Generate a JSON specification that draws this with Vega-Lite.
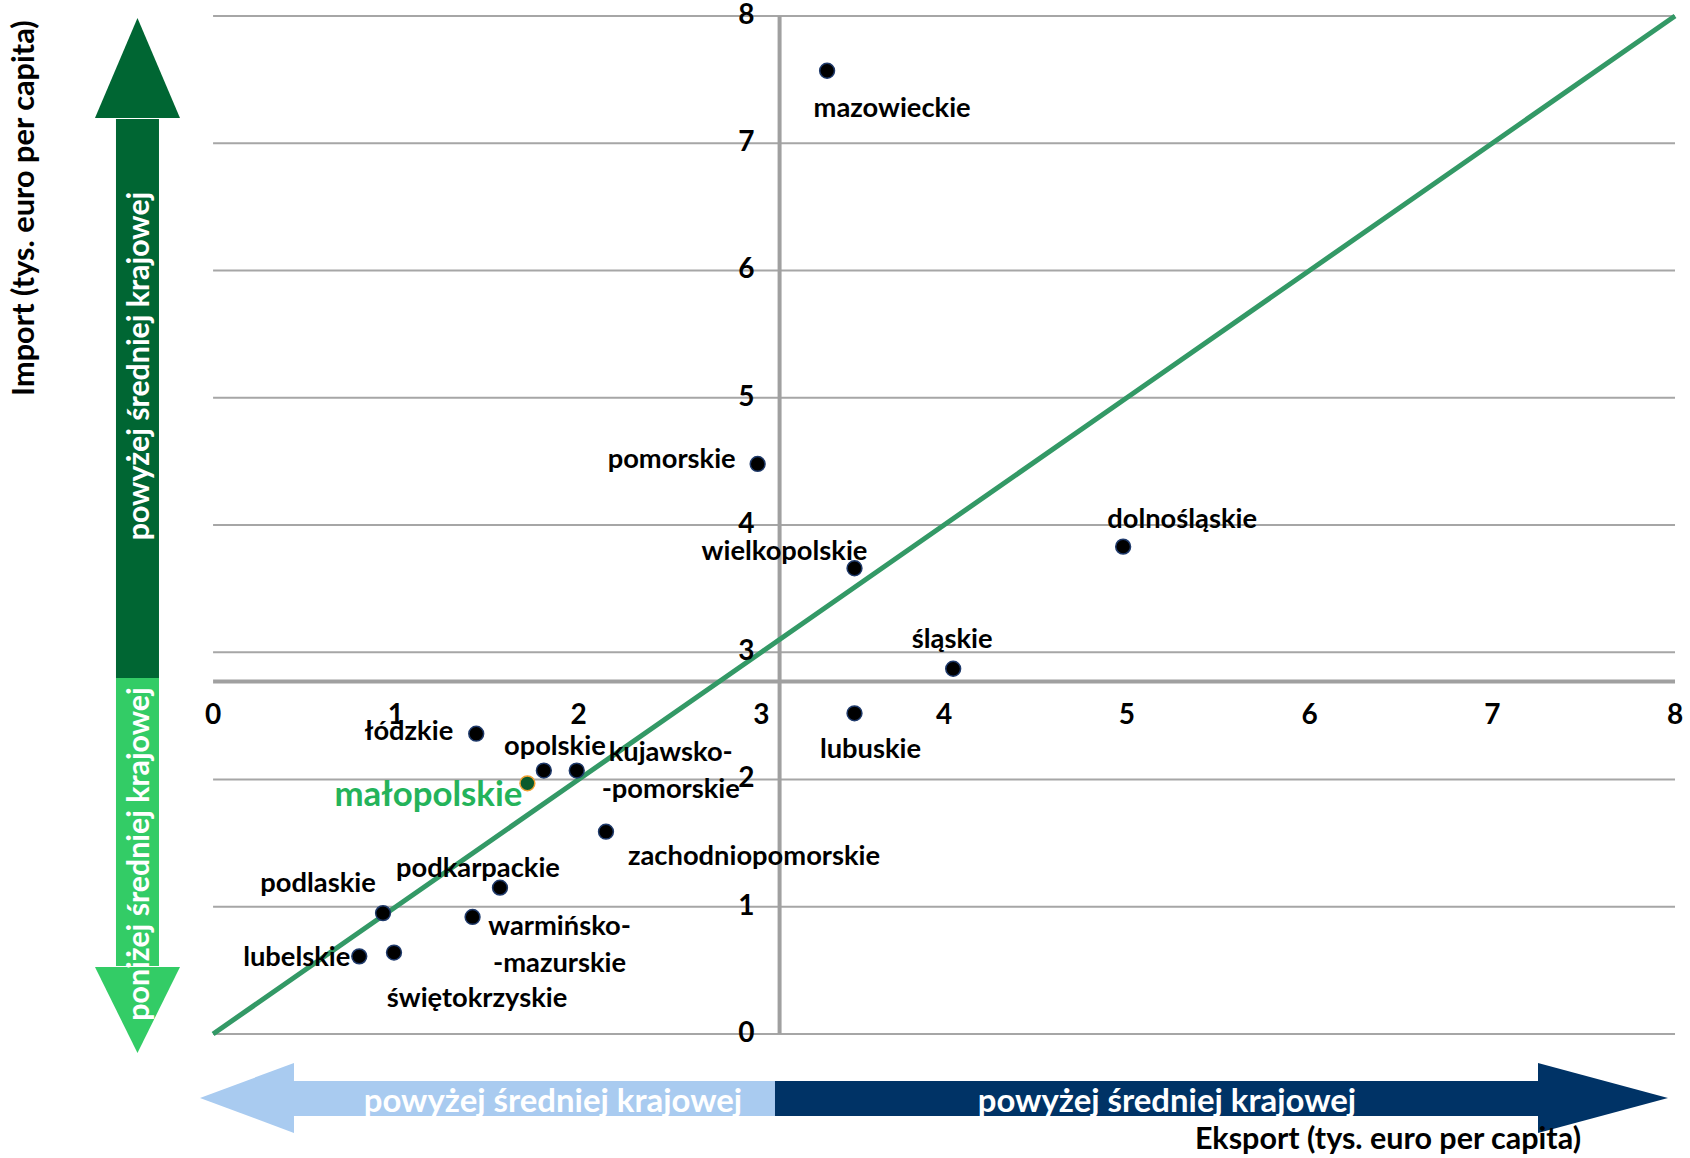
{
  "$schema": "https://vega.github.io/schema/vega-lite/v6.json",
  "width": 1690,
  "height": 1158,
  "autosize": {"type": "fit", "contains": "padding"},
  "padding": 0,
  "background": "white",
  "config": {
    "view": {"stroke": null},
    "text": {"font": "Lato", "fontWeight": "bold", "color": "#000000"}
  },
  "datasets": {
    "regiony": [
      {"region": "mazowieckie", "etykieta": "mazowieckie", "eksport": 3.36, "import": 7.57},
      {"region": "pomorskie", "etykieta": "pomorskie", "eksport": 2.98, "import": 4.48},
      {"region": "wielkopolskie", "etykieta": "wielkopolskie", "eksport": 3.51, "import": 3.66},
      {"region": "dolnośląskie", "etykieta": "dolnośląskie", "eksport": 4.98, "import": 3.83},
      {"region": "śląskie", "etykieta": "śląskie", "eksport": 4.05, "import": 2.87},
      {"region": "lubuskie", "etykieta": "lubuskie", "eksport": 3.51, "import": 2.52},
      {"region": "łódzkie", "etykieta": "łódzkie", "eksport": 1.44, "import": 2.36},
      {"region": "opolskie", "etykieta": "opolskie", "eksport": 1.81, "import": 2.07},
      {"region": "kujawsko-pomorskie", "etykieta": "kujawsko-\n-pomorskie", "eksport": 1.99, "import": 2.07},
      {"region": "małopolskie", "etykieta": "małopolskie", "eksport": 1.72, "import": 1.97},
      {"region": "zachodniopomorskie", "etykieta": "zachodniopomorskie", "eksport": 2.15, "import": 1.59},
      {"region": "podkarpackie", "etykieta": "podkarpackie", "eksport": 1.57, "import": 1.15},
      {"region": "podlaskie", "etykieta": "podlaskie", "eksport": 0.93, "import": 0.95},
      {"region": "warmińsko-mazurskie", "etykieta": "warmińsko-\n-mazurskie", "eksport": 1.42, "import": 0.92},
      {"region": "lubelskie", "etykieta": "lubelskie", "eksport": 0.80, "import": 0.61},
      {"region": "świętokrzyskie", "etykieta": "świętokrzyskie", "eksport": 0.99, "import": 0.64}
    ],
    "podzialka": [
      {"v": 0}, {"v": 1}, {"v": 2}, {"v": 3}, {"v": 4}, {"v": 5}, {"v": 6}, {"v": 7}, {"v": 8}
    ],
    "srednia": [
      {"eksport": 3.10, "import": 2.77}
    ]
  },
  "layer": [
    {
      "data": {"name": "podzialka"},
      "mark": {"type": "rule", "color": "#A6A6A6", "strokeWidth": 2},
      "encoding": {
        "y": {"field": "v", "type": "quantitative", "scale": {"domain": [-0.9745, 8.1257], "nice": false, "zero": false}, "axis": null},
        "x": {"datum": 0, "type": "quantitative", "scale": {"domain": [-1.166, 8.082], "nice": false, "zero": false}, "axis": null},
        "x2": {"datum": 8}
      }
    },
    {
      "data": {"name": "srednia"},
      "mark": {"type": "rule", "color": "#A0A0A0", "strokeWidth": 4},
      "encoding": {
        "x": {"field": "eksport", "type": "quantitative", "scale": {"domain": [-1.166, 8.082], "nice": false, "zero": false}, "axis": null},
        "y": {"datum": 0, "type": "quantitative", "scale": {"domain": [-0.9745, 8.1257], "nice": false, "zero": false}, "axis": null},
        "y2": {"datum": 8}
      }
    },
    {
      "data": {"name": "srednia"},
      "mark": {"type": "rule", "color": "#A0A0A0", "strokeWidth": 4},
      "encoding": {
        "y": {"field": "import", "type": "quantitative", "scale": {"domain": [-0.9745, 8.1257], "nice": false, "zero": false}, "axis": null},
        "x": {"datum": 0, "type": "quantitative", "scale": {"domain": [-1.166, 8.082], "nice": false, "zero": false}, "axis": null},
        "x2": {"datum": 8}
      }
    },
    {
      "data": {"name": "srednia"},
      "mark": {"type": "rect", "color": "#006633"},
      "encoding": {
        "x": {"datum": -0.5313, "type": "quantitative", "scale": {"domain": [-1.166, 8.082], "nice": false, "zero": false}, "axis": null},
        "x2": {"datum": -0.2960},
        "y": {"datum": 7.1906, "type": "quantitative", "scale": {"domain": [-0.9745, 8.1257], "nice": false, "zero": false}, "axis": null},
        "y2": {"datum": 2.7976}
      }
    },
    {
      "data": {"name": "srednia"},
      "mark": {"type": "rect", "color": "#33CC66"},
      "encoding": {
        "x": {"datum": -0.5313, "type": "quantitative", "scale": {"domain": [-1.166, 8.082], "nice": false, "zero": false}, "axis": null},
        "x2": {"datum": -0.2960},
        "y": {"datum": 2.7976, "type": "quantitative", "scale": {"domain": [-0.9745, 8.1257], "nice": false, "zero": false}, "axis": null},
        "y2": {"datum": 0.5344}
      }
    },
    {
      "data": {"name": "srednia"},
      "mark": {"type": "point", "shape": "M -0.85 1 L 0.85 1 L 0 -1 Z", "size": 10000, "filled": true, "color": "#006633", "opacity": 1, "strokeWidth": 0},
      "encoding": {
        "x": {"datum": -0.4137, "type": "quantitative", "scale": {"domain": [-1.166, 8.082], "nice": false, "zero": false}, "axis": null},
        "y": {"datum": 7.5914, "type": "quantitative", "scale": {"domain": [-0.9745, 8.1257], "nice": false, "zero": false}, "axis": null}
      }
    },
    {
      "data": {"name": "srednia"},
      "mark": {"type": "point", "shape": "M -0.85 -0.86 L 0.85 -0.86 L 0 0.86 Z", "size": 10000, "filled": true, "color": "#33CC66", "opacity": 1, "strokeWidth": 0},
      "encoding": {
        "x": {"datum": -0.4137, "type": "quantitative", "scale": {"domain": [-1.166, 8.082], "nice": false, "zero": false}, "axis": null},
        "y": {"datum": 0.1886, "type": "quantitative", "scale": {"domain": [-0.9745, 8.1257], "nice": false, "zero": false}, "axis": null}
      }
    },
    {
      "data": {"name": "srednia"},
      "mark": {"type": "rect", "color": "#A9CBF0"},
      "encoding": {
        "x": {"datum": 0.4377, "type": "quantitative", "scale": {"domain": [-1.166, 8.082], "nice": false, "zero": false}, "axis": null},
        "x2": {"datum": 3.0749},
        "y": {"datum": -0.3694, "type": "quantitative", "scale": {"domain": [-0.9745, 8.1257], "nice": false, "zero": false}, "axis": null},
        "y2": {"datum": -0.6444}
      }
    },
    {
      "data": {"name": "srednia"},
      "mark": {"type": "rect", "color": "#003366"},
      "encoding": {
        "x": {"datum": 3.0749, "type": "quantitative", "scale": {"domain": [-1.166, 8.082], "nice": false, "zero": false}, "axis": null},
        "x2": {"datum": 7.2558},
        "y": {"datum": -0.3694, "type": "quantitative", "scale": {"domain": [-0.9745, 8.1257], "nice": false, "zero": false}, "axis": null},
        "y2": {"datum": -0.6444}
      }
    },
    {
      "data": {"name": "srednia"},
      "mark": {"type": "point", "shape": "M 0.94 -0.7 L 0.94 0.7 L -0.94 0 Z", "size": 10000, "filled": true, "color": "#A9CBF0", "opacity": 1, "strokeWidth": 0},
      "encoding": {
        "x": {"datum": 0.1855, "type": "quantitative", "scale": {"domain": [-1.166, 8.082], "nice": false, "zero": false}, "axis": null},
        "y": {"datum": -0.5029, "type": "quantitative", "scale": {"domain": [-0.9745, 8.1257], "nice": false, "zero": false}, "axis": null}
      }
    },
    {
      "data": {"name": "srednia"},
      "mark": {"type": "point", "shape": "M -1.3 -0.7 L -1.3 0.7 L 1.3 0 Z", "size": 10000, "filled": true, "color": "#003366", "opacity": 1, "strokeWidth": 0},
      "encoding": {
        "x": {"datum": 7.6058, "type": "quantitative", "scale": {"domain": [-1.166, 8.082], "nice": false, "zero": false}, "axis": null},
        "y": {"datum": -0.5029, "type": "quantitative", "scale": {"domain": [-0.9745, 8.1257], "nice": false, "zero": false}, "axis": null}
      }
    },
    {
      "data": {"name": "srednia"},
      "mark": {"type": "text", "text": "powyżej średniej krajowej", "angle": 270, "color": "#FFFFFF", "fontSize": 30.3, "align": "center", "baseline": "middle"},
      "encoding": {
        "x": {"datum": -0.4, "type": "quantitative", "scale": {"domain": [-1.166, 8.082], "nice": false, "zero": false}, "axis": null},
        "y": {"datum": 5.2495, "type": "quantitative", "scale": {"domain": [-0.9745, 8.1257], "nice": false, "zero": false}, "axis": null}
      }
    },
    {
      "data": {"name": "srednia"},
      "mark": {"type": "text", "text": "poniżej średniej krajowej", "angle": 270, "color": "#FFFFFF", "fontSize": 30.3, "align": "center", "baseline": "middle"},
      "encoding": {
        "x": {"datum": -0.4, "type": "quantitative", "scale": {"domain": [-1.166, 8.082], "nice": false, "zero": false}, "axis": null},
        "y": {"datum": 1.4145, "type": "quantitative", "scale": {"domain": [-0.9745, 8.1257], "nice": false, "zero": false}, "axis": null}
      }
    },
    {
      "data": {"name": "srednia"},
      "mark": {"type": "text", "text": "powyżej średniej krajowej", "color": "#FFFFFF", "fontSize": 32.9, "align": "center", "baseline": "alphabetic"},
      "encoding": {
        "x": {"datum": 1.86, "type": "quantitative", "scale": {"domain": [-1.166, 8.082], "nice": false, "zero": false}, "axis": null},
        "y": {"datum": -0.61, "type": "quantitative", "scale": {"domain": [-0.9745, 8.1257], "nice": false, "zero": false}, "axis": null}
      }
    },
    {
      "data": {"name": "srednia"},
      "mark": {"type": "text", "text": "powyżej średniej krajowej", "color": "#FFFFFF", "fontSize": 32.9, "align": "center", "baseline": "alphabetic"},
      "encoding": {
        "x": {"datum": 5.22, "type": "quantitative", "scale": {"domain": [-1.166, 8.082], "nice": false, "zero": false}, "axis": null},
        "y": {"datum": -0.61, "type": "quantitative", "scale": {"domain": [-0.9745, 8.1257], "nice": false, "zero": false}, "axis": null}
      }
    },
    {
      "data": {"name": "srednia"},
      "mark": {"type": "text", "text": "Import (tys. euro per capita)", "angle": 270, "fontSize": 30.7, "align": "center", "baseline": "middle"},
      "encoding": {
        "x": {"datum": -1.0294, "type": "quantitative", "scale": {"domain": [-1.166, 8.082], "nice": false, "zero": false}, "axis": null},
        "y": {"datum": 6.49, "type": "quantitative", "scale": {"domain": [-0.9745, 8.1257], "nice": false, "zero": false}, "axis": null}
      }
    },
    {
      "data": {"name": "srednia"},
      "mark": {"type": "text", "text": "Eksport (tys. euro per capita)", "fontSize": 30.5, "align": "center", "baseline": "middle"},
      "encoding": {
        "x": {"datum": 6.4291, "type": "quantitative", "scale": {"domain": [-1.166, 8.082], "nice": false, "zero": false}, "axis": null},
        "y": {"datum": -0.833, "type": "quantitative", "scale": {"domain": [-0.9745, 8.1257], "nice": false, "zero": false}, "axis": null}
      }
    },
    {
      "data": {"name": "podzialka"},
      "mark": {"type": "line", "color": "#339966", "strokeWidth": 5, "strokeCap": "butt"},
      "encoding": {
        "x": {"field": "v", "type": "quantitative", "scale": {"domain": [-1.166, 8.082], "nice": false, "zero": false}, "axis": null},
        "y": {"field": "v", "type": "quantitative", "scale": {"domain": [-0.9745, 8.1257], "nice": false, "zero": false}, "axis": null}
      }
    },
    {
      "data": {"name": "regiony"},
      "transform": [{"filter": "datum.region === 'mazowieckie'"}],
      "mark": {"type": "text", "align": "center", "baseline": "middle", "dx": 65, "dy": 38, "fontSize": 27.3},
      "encoding": {
        "x": {"field": "eksport", "type": "quantitative", "scale": {"domain": [-1.166, 8.082], "nice": false, "zero": false}, "axis": null},
        "y": {"field": "import", "type": "quantitative", "scale": {"domain": [-0.9745, 8.1257], "nice": false, "zero": false}, "axis": null},
        "text": {"field": "etykieta"}
      }
    },
    {
      "data": {"name": "regiony"},
      "transform": [{"filter": "datum.region === 'pomorskie'"}],
      "mark": {"type": "text", "align": "right", "baseline": "middle", "dx": -22, "dy": -4, "fontSize": 27.3},
      "encoding": {
        "x": {"field": "eksport", "type": "quantitative", "scale": {"domain": [-1.166, 8.082], "nice": false, "zero": false}, "axis": null},
        "y": {"field": "import", "type": "quantitative", "scale": {"domain": [-0.9745, 8.1257], "nice": false, "zero": false}, "axis": null},
        "text": {"field": "etykieta"}
      }
    },
    {
      "data": {"name": "regiony"},
      "transform": [{"filter": "datum.region === 'wielkopolskie'"}],
      "mark": {"type": "text", "align": "center", "baseline": "middle", "dx": -70, "dy": -16, "fontSize": 27.3},
      "encoding": {
        "x": {"field": "eksport", "type": "quantitative", "scale": {"domain": [-1.166, 8.082], "nice": false, "zero": false}, "axis": null},
        "y": {"field": "import", "type": "quantitative", "scale": {"domain": [-0.9745, 8.1257], "nice": false, "zero": false}, "axis": null},
        "text": {"field": "etykieta"}
      }
    },
    {
      "data": {"name": "regiony"},
      "transform": [{"filter": "datum.region === 'dolnośląskie'"}],
      "mark": {"type": "text", "align": "center", "baseline": "middle", "dx": 59, "dy": -27, "fontSize": 27.3},
      "encoding": {
        "x": {"field": "eksport", "type": "quantitative", "scale": {"domain": [-1.166, 8.082], "nice": false, "zero": false}, "axis": null},
        "y": {"field": "import", "type": "quantitative", "scale": {"domain": [-0.9745, 8.1257], "nice": false, "zero": false}, "axis": null},
        "text": {"field": "etykieta"}
      }
    },
    {
      "data": {"name": "regiony"},
      "transform": [{"filter": "datum.region === 'śląskie'"}],
      "mark": {"type": "text", "align": "center", "baseline": "middle", "dx": -1, "dy": -29, "fontSize": 27.3},
      "encoding": {
        "x": {"field": "eksport", "type": "quantitative", "scale": {"domain": [-1.166, 8.082], "nice": false, "zero": false}, "axis": null},
        "y": {"field": "import", "type": "quantitative", "scale": {"domain": [-0.9745, 8.1257], "nice": false, "zero": false}, "axis": null},
        "text": {"field": "etykieta"}
      }
    },
    {
      "data": {"name": "regiony"},
      "transform": [{"filter": "datum.region === 'lubuskie'"}],
      "mark": {"type": "text", "align": "center", "baseline": "middle", "dx": 16, "dy": 37, "fontSize": 27.3},
      "encoding": {
        "x": {"field": "eksport", "type": "quantitative", "scale": {"domain": [-1.166, 8.082], "nice": false, "zero": false}, "axis": null},
        "y": {"field": "import", "type": "quantitative", "scale": {"domain": [-0.9745, 8.1257], "nice": false, "zero": false}, "axis": null},
        "text": {"field": "etykieta"}
      }
    },
    {
      "data": {"name": "regiony"},
      "transform": [{"filter": "datum.region === 'łódzkie'"}],
      "mark": {"type": "text", "align": "right", "baseline": "middle", "dx": -23, "dy": -2, "fontSize": 27.3},
      "encoding": {
        "x": {"field": "eksport", "type": "quantitative", "scale": {"domain": [-1.166, 8.082], "nice": false, "zero": false}, "axis": null},
        "y": {"field": "import", "type": "quantitative", "scale": {"domain": [-0.9745, 8.1257], "nice": false, "zero": false}, "axis": null},
        "text": {"field": "etykieta"}
      }
    },
    {
      "data": {"name": "regiony"},
      "transform": [{"filter": "datum.region === 'opolskie'"}],
      "mark": {"type": "text", "align": "center", "baseline": "middle", "dx": 11, "dy": -24, "fontSize": 27.3},
      "encoding": {
        "x": {"field": "eksport", "type": "quantitative", "scale": {"domain": [-1.166, 8.082], "nice": false, "zero": false}, "axis": null},
        "y": {"field": "import", "type": "quantitative", "scale": {"domain": [-0.9745, 8.1257], "nice": false, "zero": false}, "axis": null},
        "text": {"field": "etykieta"}
      }
    },
    {
      "data": {"name": "regiony"},
      "transform": [{"filter": "datum.region === 'kujawsko-pomorskie'"}],
      "mark": {"type": "text", "align": "center", "baseline": "middle", "dx": 94, "dy": -18, "fontSize": 27.3, "lineBreak": "\n", "lineHeight": 37},
      "encoding": {
        "x": {"field": "eksport", "type": "quantitative", "scale": {"domain": [-1.166, 8.082], "nice": false, "zero": false}, "axis": null},
        "y": {"field": "import", "type": "quantitative", "scale": {"domain": [-0.9745, 8.1257], "nice": false, "zero": false}, "axis": null},
        "text": {"field": "etykieta"}
      }
    },
    {
      "data": {"name": "regiony"},
      "transform": [{"filter": "datum.region === 'małopolskie'"}],
      "mark": {"type": "text", "align": "right", "baseline": "middle", "dx": -5, "dy": 13, "fontSize": 34.8, "color": "#24B35A"},
      "encoding": {
        "x": {"field": "eksport", "type": "quantitative", "scale": {"domain": [-1.166, 8.082], "nice": false, "zero": false}, "axis": null},
        "y": {"field": "import", "type": "quantitative", "scale": {"domain": [-0.9745, 8.1257], "nice": false, "zero": false}, "axis": null},
        "text": {"field": "etykieta"}
      }
    },
    {
      "data": {"name": "regiony"},
      "transform": [{"filter": "datum.region === 'zachodniopomorskie'"}],
      "mark": {"type": "text", "align": "left", "baseline": "middle", "dx": 22, "dy": 25, "fontSize": 27.3},
      "encoding": {
        "x": {"field": "eksport", "type": "quantitative", "scale": {"domain": [-1.166, 8.082], "nice": false, "zero": false}, "axis": null},
        "y": {"field": "import", "type": "quantitative", "scale": {"domain": [-0.9745, 8.1257], "nice": false, "zero": false}, "axis": null},
        "text": {"field": "etykieta"}
      }
    },
    {
      "data": {"name": "regiony"},
      "transform": [{"filter": "datum.region === 'podkarpackie'"}],
      "mark": {"type": "text", "align": "center", "baseline": "middle", "dx": -22, "dy": -19, "fontSize": 27.3},
      "encoding": {
        "x": {"field": "eksport", "type": "quantitative", "scale": {"domain": [-1.166, 8.082], "nice": false, "zero": false}, "axis": null},
        "y": {"field": "import", "type": "quantitative", "scale": {"domain": [-0.9745, 8.1257], "nice": false, "zero": false}, "axis": null},
        "text": {"field": "etykieta"}
      }
    },
    {
      "data": {"name": "regiony"},
      "transform": [{"filter": "datum.region === 'podlaskie'"}],
      "mark": {"type": "text", "align": "center", "baseline": "middle", "dx": -65, "dy": -29, "fontSize": 27.3},
      "encoding": {
        "x": {"field": "eksport", "type": "quantitative", "scale": {"domain": [-1.166, 8.082], "nice": false, "zero": false}, "axis": null},
        "y": {"field": "import", "type": "quantitative", "scale": {"domain": [-0.9745, 8.1257], "nice": false, "zero": false}, "axis": null},
        "text": {"field": "etykieta"}
      }
    },
    {
      "data": {"name": "regiony"},
      "transform": [{"filter": "datum.region === 'warmińsko-mazurskie'"}],
      "mark": {"type": "text", "align": "center", "baseline": "middle", "dx": 87, "dy": 10, "fontSize": 27.3, "lineBreak": "\n", "lineHeight": 37},
      "encoding": {
        "x": {"field": "eksport", "type": "quantitative", "scale": {"domain": [-1.166, 8.082], "nice": false, "zero": false}, "axis": null},
        "y": {"field": "import", "type": "quantitative", "scale": {"domain": [-0.9745, 8.1257], "nice": false, "zero": false}, "axis": null},
        "text": {"field": "etykieta"}
      }
    },
    {
      "data": {"name": "regiony"},
      "transform": [{"filter": "datum.region === 'lubelskie'"}],
      "mark": {"type": "text", "align": "right", "baseline": "middle", "dx": -9, "dy": 2, "fontSize": 27.3},
      "encoding": {
        "x": {"field": "eksport", "type": "quantitative", "scale": {"domain": [-1.166, 8.082], "nice": false, "zero": false}, "axis": null},
        "y": {"field": "import", "type": "quantitative", "scale": {"domain": [-0.9745, 8.1257], "nice": false, "zero": false}, "axis": null},
        "text": {"field": "etykieta"}
      }
    },
    {
      "data": {"name": "regiony"},
      "transform": [{"filter": "datum.region === 'świętokrzyskie'"}],
      "mark": {"type": "text", "align": "center", "baseline": "middle", "dx": 83, "dy": 46, "fontSize": 27.3},
      "encoding": {
        "x": {"field": "eksport", "type": "quantitative", "scale": {"domain": [-1.166, 8.082], "nice": false, "zero": false}, "axis": null},
        "y": {"field": "import", "type": "quantitative", "scale": {"domain": [-0.9745, 8.1257], "nice": false, "zero": false}, "axis": null},
        "text": {"field": "etykieta"}
      }
    },
    {
      "data": {"name": "regiony"},
      "mark": {"type": "point", "filled": true, "size": 220, "opacity": 1, "strokeWidth": 1.5},
      "encoding": {
        "x": {"field": "eksport", "type": "quantitative", "scale": {"domain": [-1.166, 8.082], "nice": false, "zero": false}, "axis": null},
        "y": {"field": "import", "type": "quantitative", "scale": {"domain": [-0.9745, 8.1257], "nice": false, "zero": false}, "axis": null},
        "fill": {"condition": {"test": "datum.region === 'małopolskie'", "value": "#0B5A2C"}, "value": "#000000"},
        "stroke": {"condition": {"test": "datum.region === 'małopolskie'", "value": "#F0A030"}, "value": "#1F3A6B"}
      }
    },
    {
      "data": {"name": "podzialka"},
      "mark": {"type": "text", "align": "center", "baseline": "middle", "dy": 34, "fontSize": 28},
      "encoding": {
        "x": {"field": "v", "type": "quantitative", "scale": {"domain": [-1.166, 8.082], "nice": false, "zero": false}, "axis": null},
        "y": {"datum": 2.77, "type": "quantitative", "scale": {"domain": [-0.9745, 8.1257], "nice": false, "zero": false}, "axis": null},
        "text": {"field": "v"}
      }
    },
    {
      "data": {"name": "podzialka"},
      "mark": {"type": "text", "align": "right", "baseline": "middle", "dx": -25, "fontSize": 28},
      "encoding": {
        "y": {"field": "v", "type": "quantitative", "scale": {"domain": [-0.9745, 8.1257], "nice": false, "zero": false}, "axis": null},
        "x": {"datum": 3.10, "type": "quantitative", "scale": {"domain": [-1.166, 8.082], "nice": false, "zero": false}, "axis": null},
        "text": {"field": "v"}
      }
    }
  ]
}
